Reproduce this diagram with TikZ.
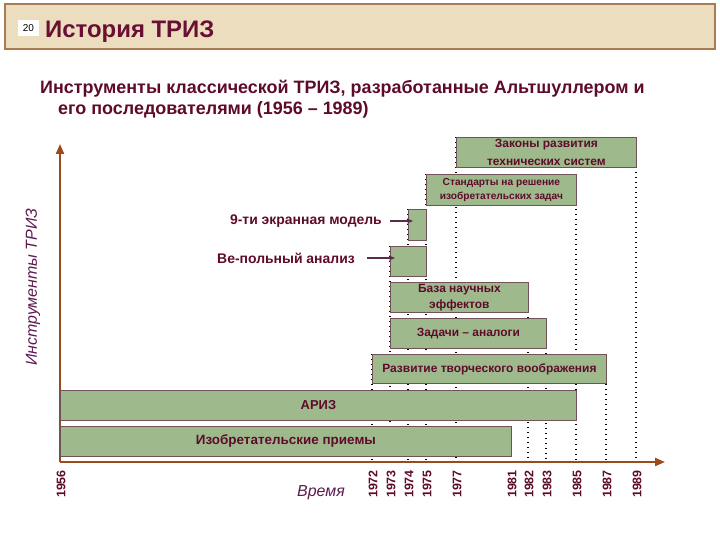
\documentclass[tikz,border=0pt]{standalone}
\usepackage{fontspec}
\setmainfont{Liberation Sans}
\usetikzlibrary{arrows.meta,backgrounds}
\definecolor{barfill}{HTML}{9EBA8C}
\definecolor{barline}{HTML}{6F5356}
\definecolor{txtred}{HTML}{5E0B2B}
\definecolor{titlered}{HTML}{6A0F34}
\definecolor{axisbrown}{HTML}{9B4A1C}
\definecolor{ptrcol}{HTML}{5B2C4A}
\definecolor{axislblcol}{HTML}{5D1A4F}
\definecolor{parchment}{HTML}{ECDDBF}
\definecolor{parchline}{HTML}{A97C50}
\tikzset{
  bar/.style={draw=barline, line width=0.8bp, fill=barfill, anchor=north west,
    inner sep=0pt, align=center, text=txtred, font=\bfseries\fontsize{12}{14}\selectfont},
  yearlbl/.style={rotate=90, anchor=east, inner sep=0pt, text=txtred,
    font=\bfseries\fontsize{12.5}{14}\selectfont},
  yearline/.style={black, line width=1.2bp, dash pattern=on 1.4bp off 3.6bp},
  axis/.style={axisbrown, line width=2bp, -{Triangle[length=10bp,width=8bp]}},
  axislbl/.style={text=axislblcol, font=\itshape\fontsize{16}{19}\selectfont},
  toollbl/.style={anchor=east, inner sep=0pt, text=txtred, font=\bfseries\fontsize{14}{16}\selectfont},
  ptr/.style={ptrcol, line width=1.5bp, -{Stealth[length=6bp,width=5bp]}}
}
\begin{document}
\begin{tikzpicture}[x=1bp, y=-1bp]
  \useasboundingbox (0,0) rectangle (720,540);

  %%% title bar
  \draw[fill=parchment, draw=parchline, line width=1.5bp] (5,4) rectangle (715,49);
  \node[fill=white, minimum width=21bp, minimum height=16bp, inner sep=0pt,
    font=\fontsize{10}{12}\selectfont] (slideno) at (28.5,28) {20};
  \node[anchor=base west, inner sep=0pt, text=titlered,
    font=\bfseries\fontsize{24}{28}\selectfont] (title) at (45,38) {История ТРИЗ};

  \node[anchor=base west, inner sep=0pt, text=txtred,
    font=\bfseries\fontsize{18}{21}\selectfont] (sub1) at (40,94)
    {Инструменты классической ТРИЗ, разработанные Альтшуллером и};
  \node[anchor=base west, inner sep=0pt, text=txtred,
    font=\bfseries\fontsize{18}{21}\selectfont] (sub2) at (58,115)
    {его последователями (1956 – 1989)};

  %%% axes
  \coordinate (origin) at (60,462);
  \draw[axis] (origin) -- (665,462);
  \draw[axis] (origin) -- (60,144);
  \node[axislbl, rotate=90] (ylbl) at (33,287) {Инструменты ТРИЗ};
  \node[axislbl] (xlbl) at (321,493) {Время};

  %%% years
  \foreach \yr/\xx in {1956/60, 1972/372, 1973/390, 1974/408, 1975/426, 1977/456,
      1981/511, 1982/528, 1983/546, 1985/576, 1987/606, 1989/636} {
    \coordinate (y\yr) at (\xx,462);
    \node[yearlbl] (l\yr) at ([xshift=1bp, yshift=-8bp]y\yr) {\yr};
  }

  %%% tools
  \node[bar, minimum width=451bp, minimum height=30bp, font=\bfseries\fontsize{13.5}{16}\selectfont]
    (priemy) at (60,426) {Изобретательские приемы};
  \node[bar, minimum width=516bp, minimum height=30bp, font=\bfseries\fontsize{13}{16}\selectfont]
    (ariz) at (60,390) {АРИЗ};
  \node[bar, minimum width=234bp, minimum height=29bp] (razv) at (372,354) {Развитие творческого воображения};
  \node[bar, minimum width=156bp, minimum height=30bp] (zadachi) at (390,318) {Задачи – аналоги};
  \node[bar, minimum width=138bp, minimum height=30bp, font=\bfseries\fontsize{12}{16}\selectfont]
    (baza) at (390,282) {База научных\\эффектов};
  \node[bar, minimum width=36bp, minimum height=30bp] (vepol) at (390,246) {};
  \node[bar, minimum width=18bp, minimum height=31bp] (screen9) at (408,209) {};
  \node[bar, minimum width=150bp, minimum height=31bp, font=\bfseries\fontsize{10.2}{14}\selectfont]
    (standart) at (426,174) {Стандарты на решение\\изобретательских задач};
  \node[bar, minimum width=180bp, minimum height=30bp, font=\bfseries\fontsize{12}{18}\selectfont]
    (zakony) at (456,137) {Законы развития\\технических систем};

  %%% year guide lines
  \begin{scope}[on background layer]
    \foreach \yr/\tool in {1972/razv, 1973/vepol, 1974/screen9, 1975/standart,
        1977/zakony, 1981/priemy, 1982/baza, 1983/zadachi, 1985/standart,
        1987/razv, 1989/zakony}
      \draw[yearline] (y\yr |- \tool.north) -- (y\yr);
  \end{scope}

  %%% labels with pointers
  \node[toollbl] (lbl9) at (382,221) {9-ти экранная модель};
  \node[toollbl] (lblvepol) at (355,258) {Ве-польный анализ};
  \draw[ptr] ([xshift=8bp]lbl9.east) -- ([xshift=5bp]lbl9.east -| screen9.west);
  \draw[ptr] ([xshift=12bp]lblvepol.east) -- ([xshift=5bp]lblvepol.east -| vepol.west);
\end{tikzpicture}
\end{document}
